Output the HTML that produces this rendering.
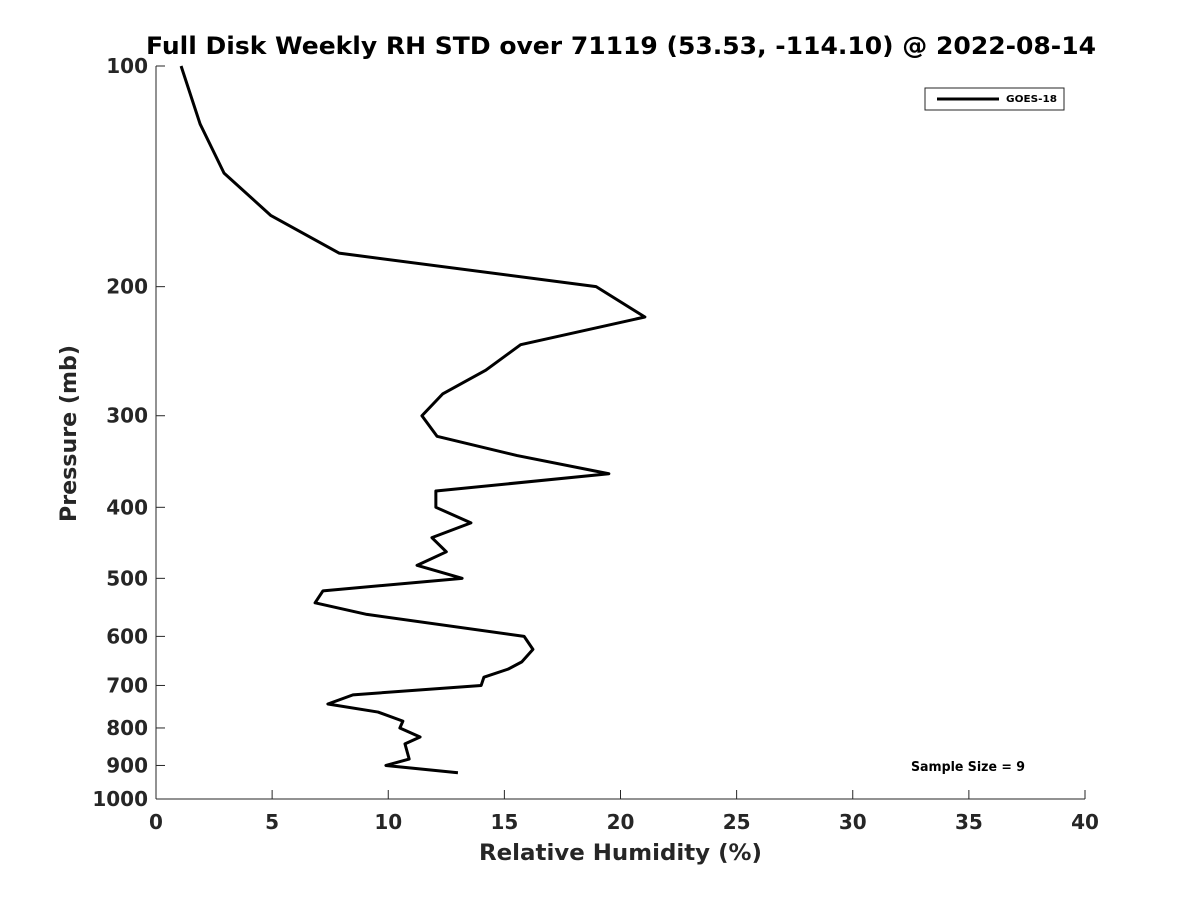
<!DOCTYPE html>
<html><head><meta charset="utf-8"><style>
body{margin:0;background:#fff;}
text{font-family:"DejaVu Sans","Liberation Sans",sans-serif;font-weight:bold;fill:#262626;}
</style></head><body>
<svg id="chart" width="1200" height="900" xmlns="http://www.w3.org/2000/svg">
<rect width="1200" height="900" fill="#fff"/>
<text x="146" y="54" font-size="24" textLength="950" lengthAdjust="spacingAndGlyphs" style="fill:#000">Full Disk Weekly RH STD over 71119 (53.53, -114.10) @ 2022-08-14</text>
<g id="axes"></g>
<polyline id="series" fill="none" stroke="#000" stroke-width="3" stroke-linejoin="round"/>
<text x="479" y="860" font-size="22" textLength="283" lengthAdjust="spacingAndGlyphs">Relative Humidity (%)</text>
<text transform="translate(76,522) rotate(-90)" font-size="22" textLength="177" lengthAdjust="spacingAndGlyphs">Pressure (mb)</text>
<g>
<rect x="925" y="88" width="139" height="22" fill="#fff" stroke="#262626" stroke-width="1"/>
<line x1="937" y1="99" x2="999" y2="99" stroke="#000" stroke-width="3"/>
<text x="1006" y="102" font-size="10" textLength="51" lengthAdjust="spacingAndGlyphs" style="fill:#000">GOES-18</text>
</g>
<text x="911" y="771" font-size="13" textLength="114" lengthAdjust="spacingAndGlyphs" style="fill:#000">Sample Size = 9</text>
</svg>
<script>
const rhValues=[1.08,1.9,2.93,4.95,7.88,18.95,21.05,15.7,14.2,12.35,11.45,12.1,15.55,19.5,12.05,12.05,13.56,11.88,12.5,11.24,13.18,7.19,6.85,9.08,15.85,16.23,15.75,15.16,14.12,14.0,8.48,7.4,9.56,10.63,10.5,11.37,10.72,10.9,9.9,13.0];
const pressures=[100,120,140,160,180,200,220,240,260,280,300,320,340,360,380,400,420,440,460,480,500,520,540,560,600,625,650,665,682,700,721,742,761,783,800,823,841,882,900,921];
const xTicks=[0,5,10,15,20,25,30,35,40];
const yTicks=[100,200,300,400,500,600,700,800,900,1000];
const L=156,R=1085,T=66,B=799;
function xs(v){return L+(v-0)/(40-0)*(R-L);}
function ys(p){return T+Math.log10(p/100)*(B-T);}
const NS="http://www.w3.org/2000/svg";
const ax=document.getElementById('axes');
function mk(tag,attrs,parent){const e=document.createElementNS(NS,tag);for(const k in attrs)e.setAttribute(k,attrs[k]);parent.appendChild(e);return e;}
const xl=mk('line',{x1:L,y1:B,x2:R,y2:B,stroke:'#262626','stroke-width':1},ax);


const yl=mk('line',{x1:L,y1:T,x2:L,y2:B,stroke:'#262626','stroke-width':1},ax);


xTicks.forEach(v=>{
 const x=xs(v);
 const t=mk('line',{x1:x,y1:B,x2:x,y2:B-9,stroke:'#262626'},ax);
 
 
 const lb=mk('text',{x:x,y:B+30,'font-size':20,'text-anchor':'middle'},ax);
 lb.textContent=v;
 
 
});
yTicks.forEach(p=>{
 const y=ys(p);
 const t=mk('line',{x1:L,y1:y,x2:L+9,y2:y,stroke:'#262626'},ax);
 
 
 const lb=mk('text',{x:L-8,y:y+7,'font-size':20,'text-anchor':'end'},ax);
 lb.textContent=p;
 
 
});
document.getElementById('series').setAttribute('points',rhValues.map((v,i)=>xs(v)+','+ys(pressures[i])).join(' '));
</script>
</body></html>
